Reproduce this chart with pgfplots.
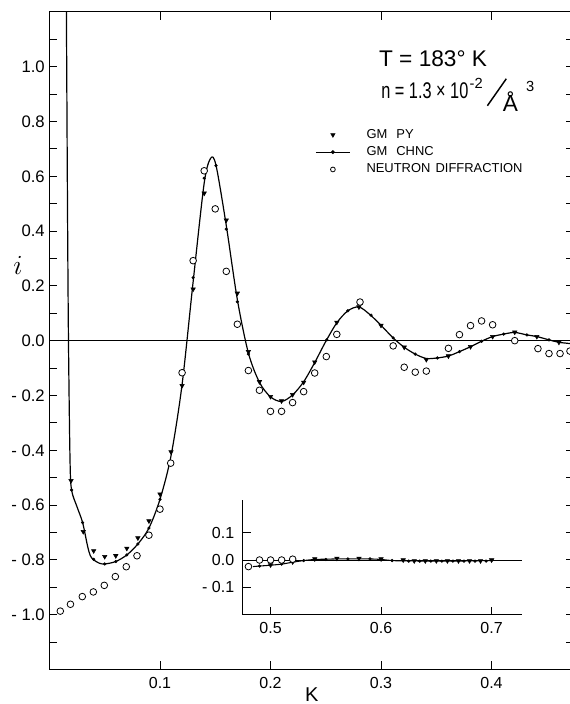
\documentclass[border=0pt]{standalone}
\usepackage{fontspec}
\setmainfont{Liberation Sans}
\usepackage{graphicx}
\usepackage{pgfplots}
\pgfplotsset{compat=1.18}
\pgfplotsset{chnclegend/.style={legend image code/.code={\draw[mark repeat=2, mark phase=2, ##1] plot coordinates {(-0.15cm,0cm) (0.3cm,0cm) (0.75cm,0cm)};}}}

\pgfplotstableread{
k i
0.0195 -0.511
0.0306 -0.697
0.040 -0.767
0.050 -0.788
0.060 -0.785
0.070 -0.758
0.080 -0.720
0.090 -0.658
0.100 -0.560
0.110 -0.406
0.120 -0.164
0.130 0.188
0.140 0.538
0.160 0.440
0.170 0.173
0.180 -0.040
0.190 -0.150
0.200 -0.204
0.210 -0.220
0.220 -0.197
0.230 -0.152
0.240 -0.078
0.260 0.067
0.280 0.123
0.300 0.056
0.321 -0.024
0.341 -0.069
0.361 -0.056
0.381 -0.022
0.401 0.015
0.421 0.031
0.441 0.015
0.461 -0.006
}\pydata

\pgfplotstableread{
k i
0.020 -0.545
0.030 -0.664
0.040 -0.798
0.050 -0.815
0.060 -0.806
0.070 -0.782
0.080 -0.742
0.090 -0.684
0.100 -0.579
0.130 0.230
0.140 0.593
0.1507 0.639
0.160 0.407
0.170 0.142
0.180 -0.049
0.251 0.003
0.270 0.109
0.291 0.093
0.311 0.010
0.331 -0.049
0.351 -0.063
0.371 -0.040
0.391 -0.002
0.411 0.024
0.432 0.021
0.452 0.003
}\chncdots

\pgfplotstableread{
k i
0.0152 1.30
0.0163 0.50
0.0172 0.00
0.0186 -0.435
0.020 -0.545
0.025 -0.607
0.030 -0.664
0.0345 -0.750
0.037 -0.785
0.040 -0.800
0.045 -0.812
0.050 -0.815
0.060 -0.806
0.070 -0.782
0.080 -0.742
0.090 -0.684
0.100 -0.579
0.110 -0.420
0.120 -0.160
0.130 0.215
0.140 0.575
0.1459 0.666
0.1507 0.640
0.160 0.420
0.170 0.150
0.180 -0.045
0.190 -0.152
0.200 -0.205
0.210 -0.222
0.220 -0.198
0.230 -0.150
0.240 -0.080
0.250 -0.003
0.260 0.065
0.270 0.109
0.280 0.123
0.290 0.095
0.300 0.056
0.311 0.010
0.321 -0.024
0.331 -0.049
0.341 -0.065
0.351 -0.063
0.361 -0.056
0.371 -0.040
0.381 -0.022
0.391 -0.002
0.401 0.015
0.411 0.024
0.421 0.030
0.432 0.021
0.441 0.015
0.452 0.003
0.461 -0.006
0.475 -0.012
}\chncline

\pgfplotstableread{
k i
0.0098 -0.987
0.019 -0.962
0.0297 -0.934
0.0397 -0.917
0.0496 -0.893
0.0596 -0.861
0.0695 -0.825
0.0792 -0.785
0.090 -0.710
0.100 -0.615
0.1097 -0.447
0.120 -0.117
0.130 0.292
0.140 0.620
0.150 0.481
0.160 0.253
0.170 0.060
0.180 -0.109
0.190 -0.181
0.200 -0.258
0.210 -0.258
0.220 -0.226
0.230 -0.186
0.240 -0.118
0.2505 -0.058
0.260 0.023
0.281 0.141
0.311 -0.019
0.321 -0.097
0.331 -0.115
0.341 -0.111
0.361 -0.028
0.371 0.022
0.381 0.055
0.391 0.072
0.401 0.058
0.421 0.000
0.442 -0.029
0.452 -0.047
0.462 -0.047
0.471 -0.038
}\neutron

\pgfplotstableread{
k i
0.480 -0.024
0.490 0.000
0.500 0.000
0.510 0.000
0.520 0.003
}\insetneutron

\pgfplotstableread{
k i
0.500 -0.018
0.520 -0.007
0.540 0.004
0.560 0.006
0.580 0.006
0.600 0.004
0.620 0.000
0.630 -0.003
0.640 -0.003
0.650 -0.003
0.660 -0.003
0.670 -0.003
0.680 -0.003
0.690 -0.003
0.700 0.000
}\insetpy

\pgfplotstableread{
k i
0.490 -0.022
0.510 -0.015
0.530 -0.002
0.550 0.002
0.570 0.004
0.590 0.004
0.610 -0.002
0.625 -0.004
0.635 -0.004
0.645 -0.004
0.655 -0.004
0.665 -0.004
0.675 -0.004
0.685 -0.004
0.695 -0.004
}\insetdots

\pgfplotstableread{
k i
0.484 -0.024
0.490 -0.022
0.500 -0.019
0.510 -0.015
0.520 -0.008
0.530 -0.002
0.540 0.002
0.550 0.003
0.560 0.004
0.570 0.004
0.580 0.004
0.590 0.004
0.600 0.002
0.610 -0.002
0.620 -0.003
0.660 -0.004
0.700 -0.002
}\insetline

\begin{document}
\begin{tikzpicture}
\path[use as bounding box] (0,0) rectangle (427.5pt,-528pt);
\begin{axis}[
  at={(37.1pt,-8.9pt)}, anchor=north west,
  scale only axis, width=393.7pt, height=493.2pt,
  xmin=0, xmax=0.475, ymin=-1.2, ymax=1.2,
  tick align=inside, major tick length=6pt, minor tick length=6pt,
  xtick={0.1,0.2,0.3,0.4}, xticklabels={0.1,0.2,0.3,0.4},
  ytick={-1,-0.8,-0.6,-0.4,-0.2,0,0.2,0.4,0.6,0.8,1},
  yticklabels={-\;1.0,-\;0.8,-\;0.6,-\;0.4,-\;0.2,0.0,0.2,0.4,0.6,0.8,1.0},
  minor ytick={-1.1,-0.9,-0.7,-0.5,-0.3,-0.1,0.1,0.3,0.5,0.7,0.9,1.1},
  yticklabel style={font=\fontsize{12.5}{14}\selectfont},
  xticklabel style={font=\fontsize{12}{14}\selectfont, yshift=-2pt},
  xlabel={K},
  xlabel style={at={(axis description cs:0.4995,-0.038)}, anchor=center, font=\fontsize{15}{16}\selectfont},
  ylabel={$i$},
  ylabel style={at={(axis description cs:-0.06,0.614)}, rotate=-90, anchor=center, font=\fontsize{20}{20}\selectfont},
  axis line style={line width=0.8pt},
  every tick/.style={black, line width=0.6pt},
  legend cell align=left,
  legend style={at={(axis cs:0.2403,0.784)}, anchor=north west, draw=none, fill=none,
    font=\fontsize{9.7}{11}\selectfont, inner sep=0pt, row sep=0pt,
    nodes={text height=7pt, text depth=2pt, inner sep=2pt}},
]
\addplot[black, only marks, mark=triangle*, mark size=1.9pt, mark options={rotate=180}] table {\pydata};
\addlegendentry{\hspace*{10pt}GM\hspace{0.7em}PY}
\addlegendimage{chnclegend, black, line width=0.8pt, mark=*, mark size=1pt}
\addlegendentry{\hspace*{10pt}GM\hspace{0.7em}CHNC}
\addlegendimage{black, only marks, mark=*, mark size=1.8pt, mark options={fill=white, draw=black, line width=0.6pt}}
\addlegendentry{\hspace*{10pt}NEUTRON\hspace{0.4em}DIFFRACTION}
\addplot[black, line width=0.6pt, forget plot] coordinates {(0,0) (0.475,0)};
\addplot[black, line width=0.9pt, smooth, tension=0.5, forget plot] table {\chncline};
\addplot[black, only marks, mark=*, mark size=1pt, forget plot] table {\chncdots};
\addplot[black, only marks, mark=*, mark size=2.5pt, mark options={fill=white, draw=black, line width=0.6pt}, forget plot] table {\neutron};
\node[anchor=west, font=\fontsize{17}{20}\selectfont] at (axis cs:0.2940,1.028) {T = 183° K};
\node[anchor=base west, font=\fontsize{17}{20}\selectfont] at (axis cs:0.2960,0.885) {\scalebox{0.72}[1]{n = 1.3 × 10}\kern1pt\raisebox{7pt}{\fontsize{11}{11}\selectfont -2}\kern3pt\raisebox{-6pt}{\rotatebox{55}{\rule{24.75pt}{1.1pt}}}\kern-3pt\raisebox{-10pt}{Å}\kern6pt\raisebox{5pt}{\fontsize{11}{11}\selectfont 3}};
\end{axis}

\begin{axis}[
  at={(182.2pt,-374.8pt)}, anchor=north west,
  scale only axis, width=209.3pt, height=86.3pt,
  xmin=0.475, xmax=0.7275, ymin=-0.2, ymax=0.22,
  axis x line*=bottom, axis y line*=left,
  axis line style={-, line width=0.8pt},
  tick align=inside, major tick length=6pt,
  every tick/.style={black, line width=0.6pt},
  xtick={0.5,0.6,0.7}, xticklabels={0.5,0.6,0.7},
  ytick={-0.1,0,0.1}, yticklabels={-\;0.1,0.0,0.1},
  ticklabel style={font=\fontsize{12}{13}\selectfont},
  xticklabel style={yshift=-2pt},
  yticklabel style={xshift=-3pt},
]
\addplot[black, line width=0.6pt] coordinates {(0.475,0) (0.7275,0)};
\addplot[black, line width=0.8pt, smooth] table {\insetline};
\addplot[black, only marks, mark=triangle*, mark size=1.9pt, mark options={rotate=180}] table {\insetpy};
\addplot[black, only marks, mark=*, mark size=1pt] table {\insetdots};
\addplot[black, only marks, mark=*, mark size=2.5pt, mark options={fill=white, draw=black, line width=0.6pt}] table {\insetneutron};
\end{axis}
\end{tikzpicture}
\end{document}
